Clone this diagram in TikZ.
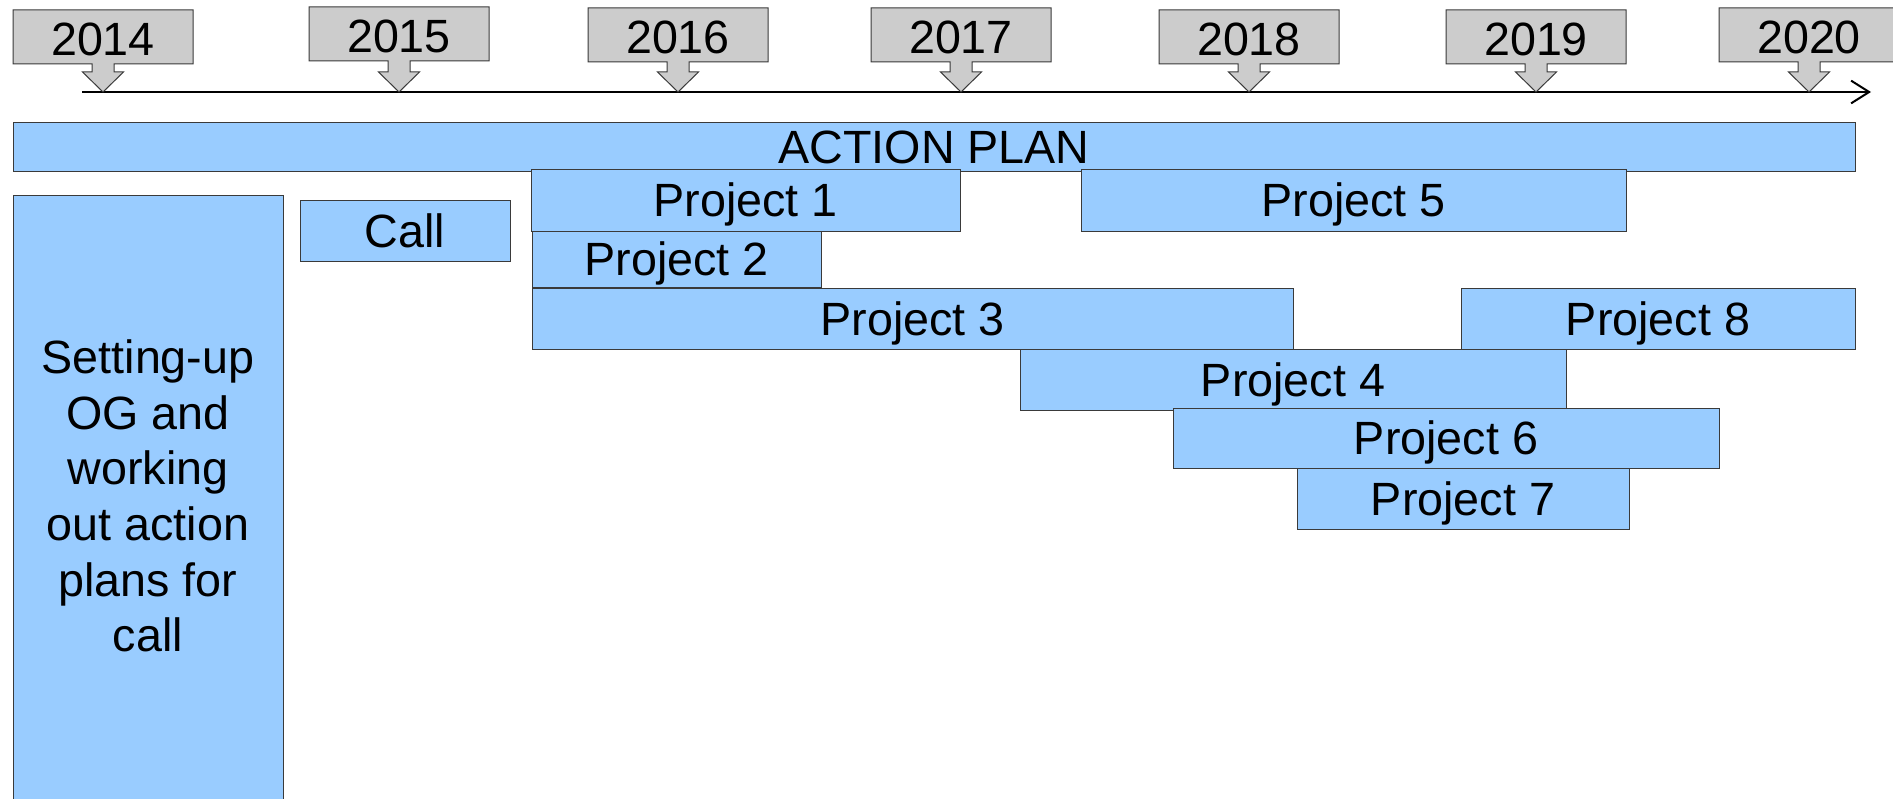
\documentclass[tikz,border=0pt]{standalone}
\usepackage{fontspec}
\setmainfont{Liberation Sans}
\usetikzlibrary{arrows.meta}
\definecolor{boxblue}{HTML}{99CCFF}
\definecolor{yeargray}{HTML}{CCCCCC}
\definecolor{edgegray}{HTML}{3A3A3A}
\newcommand\gbox[6]{\node[pbox, minimum width={(#4-#2)*0.75pt}, minimum height={(#5-#3)*0.75pt}] (#1) at ({(#2+#4)/2},{(#3+#5)/2}) {#6};}
\newcommand\yearmark[4]{%
  \path[yearshape] (#2-90,#3) -- (#2+90,#3) -- (#2+90,#3+54) -- (#2+11,#3+54) -- (#2+11,72) -- (#2+20.5,72) -- (#2,92) -- (#2-20.5,72) -- (#2-11,72) -- (#2-11,#3+54) -- (#2-90,#3+54) -- cycle;
  \node[yearlabel] (#1) at (#2,#3+29) {#4};}
\begin{document}
\begin{tikzpicture}[x=0.75pt,y=-0.75pt,
  pbox/.style={draw=edgegray, fill=boxblue, line width=0.75pt, inner sep=0pt, outer sep=0pt, font=\fontsize{35}{42}\selectfont, text height=25pt, text depth=0pt},
  tallbox/.style={draw=edgegray, fill=boxblue, line width=0.75pt, inner sep=0pt, outer sep=0pt},
  bodytext/.style={inner sep=0pt, align=center, font=\fontsize{35}{41.7}\selectfont},
  yearshape/.style={draw=edgegray, fill=yeargray, line width=0.75pt},
  yearlabel/.style={inner sep=0pt, font=\fontsize{35}{42}\selectfont, text height=25pt, text depth=0pt},
  axisline/.style={line width=1.5pt, -{Straight Barb[length=13.5pt, width=17pt]}}
]
\path[use as bounding box, clip] (0,0) rectangle (1893,799);
% time axis
\coordinate (axs) at (82,92);
\coordinate (axe) at (1871,92);
\draw[axisline] (axs) -- (axe);
% year markers
\yearmark{y2014}{103}{10}{2014}
\yearmark{y2015}{399}{7}{2015}
\yearmark{y2016}{678}{8}{2016}
\yearmark{y2017}{961}{8}{2017}
\yearmark{y2018}{1249}{10}{2018}
\yearmark{y2019}{1536}{10}{2019}
\yearmark{y2020}{1809}{8}{2020}
% bars
\gbox{action}{13}{123}{1855}{171}{ACTION PLAN}
\node[tallbox, minimum width=270*0.75pt, minimum height=620*0.75pt, anchor=north west] (setup) at (13,195) {};
\node[bodytext] (setuptext) at (148,496) {Setting-up\\OG and\\working\\out action\\plans for\\call};
\gbox{call}{300}{200}{510}{261}{Call}
\gbox{p1}{531}{169}{960}{231}{Project 1}
\gbox{p5}{1081}{169}{1626}{231}{Project 5}
\gbox{p2}{532}{231}{821}{287}{Project 2}
\gbox{p3}{532}{288}{1293}{349}{Project 3}
\gbox{p8}{1461}{288}{1855}{349}{Project 8}
\gbox{p4}{1020}{349}{1566}{410}{Project 4}
\gbox{p6}{1173}{408}{1719}{468}{Project 6}
\gbox{p7}{1297}{468}{1629}{529}{Project 7}
\end{tikzpicture}
\end{document}
